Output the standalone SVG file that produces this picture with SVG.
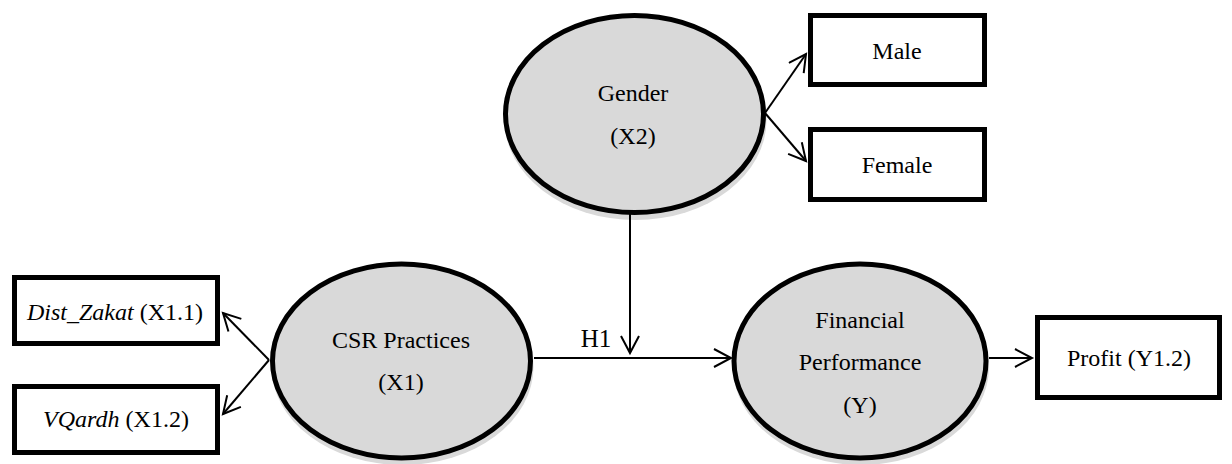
<svg xmlns="http://www.w3.org/2000/svg" width="1232" height="464" viewBox="0 0 1232 464">
<defs>
<style>
.t{font-family:'Times New Roman','Liberation Serif',Tinos,'DejaVu Serif',serif;font-size:24px;fill:#000;text-anchor:middle}
.it{font-style:italic}
.box{fill:#fff;stroke:#000;stroke-width:5}
.ell{fill:#d9d9d9;stroke:#000;stroke-width:5}
.shadow{fill:#d9d9d9;stroke:none}
.conn{stroke:#000;stroke-width:2;fill:none}
</style>
<marker id="arr" markerUnits="userSpaceOnUse" markerWidth="24" markerHeight="24" refX="18" refY="10" orient="auto" viewBox="0 0 24 24">
<path d="M1,1 L18,10 L1,19" fill="none" stroke="#000" stroke-width="2"/>
</marker>
</defs>
<rect width="1232" height="464" fill="#fff"/>

<g id="gender">
<ellipse class="shadow" cx="635.5" cy="120" rx="131" ry="100"/>
<ellipse class="ell" cx="634.5" cy="114" rx="129" ry="98.5"/>
<text class="t" x="633" y="101">Gender</text>
<text class="t" x="633" y="144">(X2)</text>
</g>

<g id="male">
<rect class="box" x="810.5" y="15.5" width="174" height="69"/>
<text class="t" x="897" y="59">Male</text>
</g>

<g id="female">
<rect class="box" x="810.5" y="129.5" width="174" height="70"/>
<text class="t" x="897" y="173">Female</text>
</g>

<g id="csr">
<ellipse class="shadow" cx="402.5" cy="367" rx="131" ry="98"/>
<ellipse class="ell" cx="401.5" cy="361" rx="129" ry="97"/>
<text class="t" x="401" y="348">CSR Practices</text>
<text class="t" x="401" y="390">(X1)</text>
</g>

<g id="financial">
<ellipse class="shadow" cx="861" cy="367" rx="128" ry="98"/>
<ellipse class="ell" cx="860" cy="361" rx="126" ry="97"/>
<text class="t" x="860" y="328">Financial</text>
<text class="t" x="860" y="370">Performance</text>
<text class="t" x="860" y="413">(Y)</text>
</g>

<g id="profit">
<rect class="box" x="1037.5" y="317.5" width="182" height="80"/>
<text class="t" x="1129" y="366">Profit (Y1.2)</text>
</g>

<g id="dist_zakat">
<rect class="box" x="14.5" y="277.5" width="203" height="66"/>
<text class="t" x="115" y="320"><tspan class="it">Dist_Zakat</tspan> (X1.1)</text>
</g>

<g id="vqardh">
<rect class="box" x="14.5" y="386.5" width="203" height="66"/>
<text class="t" x="116" y="427"><tspan class="it">VQardh</tspan> (X1.2)</text>
</g>

<g id="connectors">
<line class="conn" x1="765" y1="113" x2="806" y2="54" marker-end="url(#arr)"/>
<line class="conn" x1="765" y1="113" x2="806" y2="161" marker-end="url(#arr)"/>
<line class="conn" x1="269" y1="360" x2="223" y2="313" marker-end="url(#arr)"/>
<line class="conn" x1="269" y1="360" x2="223" y2="414" marker-end="url(#arr)"/>
<line class="conn" x1="630" y1="212" x2="630" y2="353" marker-end="url(#arr)"/>
<line class="conn" x1="534" y1="358" x2="731" y2="358" marker-end="url(#arr)"/>
<line class="conn" x1="989" y1="358" x2="1032" y2="358" marker-end="url(#arr)"/>
<text class="t" x="596" y="347" style="font-size:25px">H1</text>
</g>
</svg>
